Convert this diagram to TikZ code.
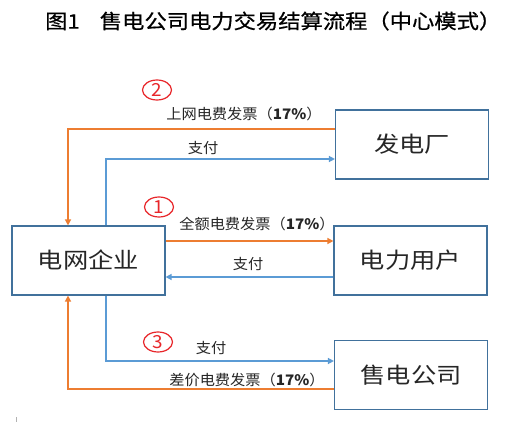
\documentclass[tikz,border=0pt]{standalone}
\usepackage{fontspec}
\setmainfont{Noto Sans CJK SC}
\newfontfamily\boxfont[FakeStretch=1.15]{Noto Sans CJK SC}
\newfontfamily\titlefont[FakeStretch=1.115,FakeBold=0.6]{Noto Sans CJK SC}
\newfontfamily\lblfont[FakeStretch=1.05]{Noto Sans CJK SC}
\usetikzlibrary{arrows.meta,shapes.geometric}
\definecolor{boxline}{HTML}{41719C}
\definecolor{orgline}{HTML}{ED7D31}
\definecolor{bluline}{HTML}{5B9BD5}
\definecolor{numred}{HTML}{E8262A}
\definecolor{txt}{HTML}{262626}
\tikzset{
  entity/.style={draw=boxline,line width=1.2pt,fill=white,minimum width=153pt,minimum height=69pt,inner sep=0pt,
    font=\boxfont\fontsize{22}{24}\selectfont,text=txt},
  orgarrow/.style={draw=orgline,line width=2pt,-{Triangle[length=6pt,width=6pt]}},
  bluarrow/.style={draw=bluline,line width=2pt,-{Triangle[length=6pt,width=6pt]}},
  lbl/.style={font=\lblfont\fontsize{14.5}{16}\selectfont,text=txt,inner sep=0pt},
  stepnum/.style={draw=numred,line width=1.2pt,ellipse,minimum width=29pt,minimum height=20pt,inner sep=0pt,
    text=numred,font=\lblfont\fontsize{18}{18}\selectfont},
}
\begin{document}
\begin{tikzpicture}[x=1pt,y=-1pt]
\useasboundingbox[fill=white] (0,0) rectangle (528,422);
\node[anchor=west,inner sep=0pt,text=black,font=\titlefont\fontsize{20}{22}\selectfont] (title) at (45,21) {图1\hspace{1em}售电公司电力交易结算流程（中心模式）};

\node[entity] (gen) at (412,144.5) {发电厂};
\node[entity] (grid) at (88.5,260.5) {电网企业};
\node[entity] (user) at (410.5,260.5) {电力用户};
\node[entity] (retail) at (411,375) {售电公司};

\coordinate (o2) at (68,129);
\coordinate (b2) at (106,159);
\coordinate (o1) at (0,241);
\coordinate (b1) at (0,277);
\coordinate (b3) at (106,361);
\coordinate (o3) at (68,389);

\draw[orgarrow] (o2 -| gen.west) -- (o2) -- (o2 |- grid.north);
\draw[bluarrow] (b2 |- grid.north) -- (b2) -- (b2 -| gen.west);
\draw[orgarrow] (o1 -| grid.east) -- (o1 -| user.west);
\draw[bluarrow] (b1 -| user.west) -- (b1 -| grid.east);
\draw[bluarrow] (b3 |- grid.south) -- (b3) -- (b3 -| retail.west);
\draw[orgarrow] (o3 -| retail.west) -- (o3) -- (o3 |- grid.south);

\node[stepnum] (n2) at (157,90) {2};
\node[stepnum] (n1) at (159,207) {1};
\node[stepnum] (n3) at (158,342) {3};

\node[lbl] (l2) at (244,114) {上网电费发票（\textbf{17\%}）};
\node[lbl] (p2) at (203,148) {支付};
\node[lbl] (l1) at (257,223.5) {全额电费发票（\textbf{17\%}）};
\node[lbl] (p1) at (248,264) {支付};
\node[lbl] (p3) at (211,348) {支付};
\node[lbl] (l3) at (247,379.5) {差价电费发票（\textbf{17\%}）};

\draw[gray!60,line width=0.6pt] (16.5,417) -- (16.5,422);
\end{tikzpicture}
\end{document}
